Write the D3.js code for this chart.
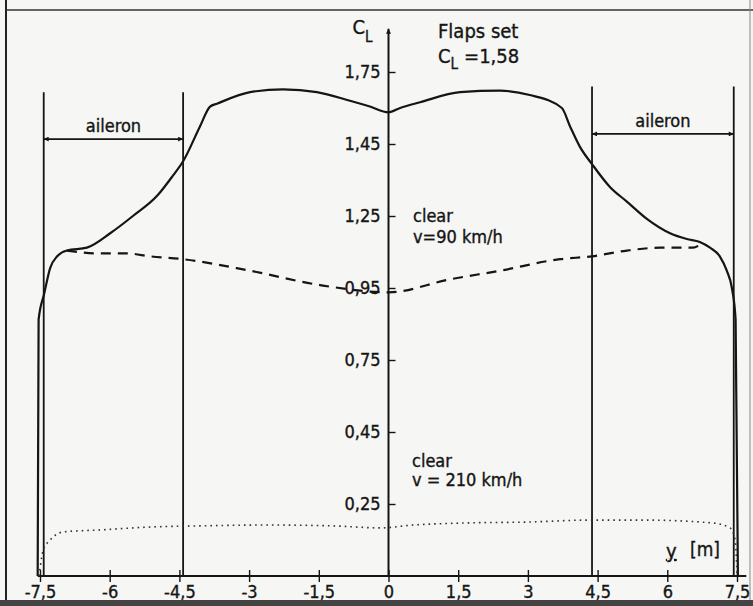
<!DOCTYPE html>
<html>
<head>
<meta charset="utf-8">
<script src="https://cdn.jsdelivr.net/npm/d3@7"></script>
<style>
  html, body { margin: 0; padding: 0; background: #f6f6f4; }
  svg { display: block; }
  text { font-family: "DejaVu Sans Condensed", "DejaVu Sans", sans-serif; fill: #151515; stroke: #151515; stroke-width: 0.35px; }
</style>
</head>
<body>
<div id="chart"></div>
<script>
// span positions [m] and lift coefficient values
const flapsY  = [-7.55, -7.53, -7.41, -7.28, -7.13, -6.92, -6.49, -5.99, -5.5, -4.98, -4.64, -4.42, -4.06, -3.84, -3.69, -2.98, -2.27, -1.54, -0.83, -0.4, 0, 0.25, 0.68, 1.54, 2.4, 3.04, 3.73, 3.91, 4.12, 4.38, 4.77, 5.13, 5.56, 6.06, 6.42, 6.7, 6.92, 7.13, 7.28, 7.39, 7.47, 7.52];
const flapsCL = [0, 0.89, 0.98, 1.07, 1.11, 1.13, 1.14, 1.19, 1.25, 1.32, 1.39, 1.44, 1.56, 1.63, 1.64, 1.68, 1.69, 1.68, 1.65, 1.63, 1.61, 1.625, 1.645, 1.68, 1.685, 1.67, 1.625, 1.56, 1.49, 1.43, 1.35, 1.3, 1.24, 1.19, 1.17, 1.16, 1.14, 1.11, 1.06, 1.0, 0.89, 0];

const slowY  = [-6.92, -6.21, -5.63, -5.13, -4.42, -2.98, -1.47, 0, 1.32, 2.4, 3.69, 4.38, 5.13, 5.84, 6.55, 6.7];
const slowCL = [1.13, 1.12, 1.12, 1.11, 1.10, 1.06, 1.01, 0.985, 1.03, 1.06, 1.10, 1.11, 1.13, 1.14, 1.14, 1.15];

const fastY  = [-7.52, -7.43, -7.28, -7.0, -6.21, -5.13, -4.06, -2.61, -1.19, -0.18, 0.53, 1.61, 3.04, 4.27, 5.56, 6.98, 7.35, 7.46, 7.5];
const fastCL = [0, 0.09, 0.125, 0.153, 0.16, 0.17, 0.174, 0.177, 0.174, 0.167, 0.177, 0.184, 0.1875, 0.194, 0.194, 0.184, 0.167, 0.125, 0.01];

const xTickValues = [-7.5, -6, -4.5, -3, -1.5, 0, 1.5, 3, 4.5, 6, 7.5];
const xTickLabels = ['-7,5', '-6', '-4,5', '-3', '-1,5', '0', '1,5', '3', '4,5', '6', '7,5'];
const yTickValues = [0.25, 0.5, 0.75, 1.0, 1.25, 1.5, 1.75];
const yTickLabels = ['0,25', '0,45', '0,75', '0,95', '1,25', '1,45', '1,75'];

// aileron extents: [from, to, top of boundary lines, arrow level]
const ailerons = [[-7.42, -4.42, 1.68, 1.517], [4.38, 7.43, 1.70, 1.535]];

const w = 753, h = 606;

const svg = d3.select('#chart').append('svg')
  .attr('width', w)
  .attr('height', h);

const x = d3.scaleLinear().domain([-7.5, 7.5]).range([40, 737]);
const y = d3.scaleLinear().domain([0, 1.75]).range([576, 72]);

// page frame of the scan
svg.append('line').attr('x1', 6).attr('x2', 6).attr('y1', 0).attr('y2', h)
   .attr('stroke', '#222').attr('stroke-width', 2);
svg.append('line').attr('x1', 6).attr('x2', w).attr('y1', 10).attr('y2', 10)
   .attr('stroke', '#333').attr('stroke-width', 1.6);
svg.append('line').attr('x1', 750).attr('x2', 750).attr('y1', 0).attr('y2', h)
   .attr('stroke', '#888').attr('stroke-width', 1);
svg.append('rect').attr('x', 0).attr('y', 600).attr('width', w).attr('height', 6)
   .attr('fill', '#444');

const defs = svg.append('defs');
defs.append('marker')
  .attr('id', 'arr')
  .attr('viewBox', '0 0 10 10')
  .attr('refX', 10).attr('refY', 5)
  .attr('markerWidth', 7).attr('markerHeight', 5)
  .attr('markerUnits', 'userSpaceOnUse')
  .attr('orient', 'auto-start-reverse')
  .append('path').attr('d', 'M0,0L10,5L0,10Z').attr('fill', '#151515');

// x axis
const xAxis = d3.axisBottom(x)
  .tickValues(xTickValues)
  .tickFormat((d, i) => xTickLabels[i])
  .tickSizeInner(6).tickSizeOuter(0).tickPadding(3);

const gx = svg.append('g')
  .attr('transform', `translate(0, ${y(0)})`)
  .call(xAxis);
gx.select('.domain').remove();
gx.append('line')
  .attr('x1', x(-7.55)).attr('x2', x(7.7))
  .attr('stroke', '#151515').attr('stroke-width', 2);
gx.selectAll('.tick line').attr('y1', -6).attr('stroke', '#151515').attr('stroke-width', 1.4);
gx.selectAll('.tick text').attr('font-size', 18).attr('fill', '#151515');

// y axis in the middle of the span
const yAxis = d3.axisLeft(y)
  .tickValues(yTickValues)
  .tickFormat((d, i) => yTickLabels[i])
  .tickSizeInner(6).tickSizeOuter(0).tickPadding(2);

const gy = svg.append('g')
  .attr('transform', `translate(${x(0)}, 0)`)
  .call(yAxis);
gy.select('.domain').remove();
gy.append('line')
  .attr('y1', y(0)).attr('y2', y(1.9))
  .attr('stroke', '#151515').attr('stroke-width', 2)
  .attr('marker-end', 'url(#arr)');
gy.selectAll('.tick line').attr('x2', 7).attr('stroke', '#151515').attr('stroke-width', 1.4);
gy.selectAll('.tick text').attr('font-size', 18).attr('fill', '#151515');

// aileron boundaries with span arrows
ailerons.forEach(a => {
  [a[0], a[1]].forEach(v => {
    svg.append('line')
      .attr('x1', x(v)).attr('x2', x(v))
      .attr('y1', y(0)).attr('y2', y(a[2]))
      .attr('stroke', '#151515').attr('stroke-width', 1.8);
  });
  svg.append('line')
    .attr('x1', x(a[0])).attr('x2', x(a[1]))
    .attr('y1', y(a[3])).attr('y2', y(a[3]))
    .attr('stroke', '#151515').attr('stroke-width', 1.6)
    .attr('marker-start', 'url(#arr)')
    .attr('marker-end', 'url(#arr)');
  svg.append('text')
    .attr('x', (x(a[0]) + x(a[1])) / 2)
    .attr('y', y(a[3]) - 7)
    .attr('text-anchor', 'middle')
    .attr('font-size', 18)
    .text('aileron');
});

const line = d3.line()
  .x(d => x(d[0]))
  .y(d => y(d[1]))
  .curve(d3.curveMonotoneX);

svg.append('path')
  .datum(d3.zip(flapsY, flapsCL))
  .attr('d', line)
  .attr('fill', 'none')
  .attr('stroke', '#151515')
  .attr('stroke-width', 2.2);

svg.append('path')
  .datum(d3.zip(slowY, slowCL))
  .attr('d', line)
  .attr('fill', 'none')
  .attr('stroke', '#151515')
  .attr('stroke-width', 2.2)
  .attr('stroke-dasharray', '10,7');

svg.append('path')
  .datum(d3.zip(fastY, fastCL))
  .attr('d', line)
  .attr('fill', 'none')
  .attr('stroke', '#333')
  .attr('stroke-width', 1.6)
  .attr('stroke-dasharray', '1.6,4');

// annotations
const cl = svg.append('text').attr('x', x(0) - 36).attr('y', 34).attr('font-size', 20);
cl.append('tspan').text('C');
cl.append('tspan').attr('dy', 8).attr('font-size', 15).text('L');

svg.append('text').attr('x', 438).attr('y', 38).attr('font-size', 20).text('Flaps set');
const cl2 = svg.append('text').attr('x', 438).attr('y', 63).attr('font-size', 20);
cl2.append('tspan').text('C');
cl2.append('tspan').attr('dy', 6).attr('font-size', 15).text('L');
cl2.append('tspan').attr('dy', -6).attr('dx', 6).text('=1,58');

svg.append('text').attr('x', 413).attr('y', 222).attr('font-size', 18).text('clear');
svg.append('text').attr('x', 413).attr('y', 243).attr('font-size', 18).text('v=90 km/h');
svg.append('text').attr('x', 412).attr('y', 467).attr('font-size', 18).text('clear');
svg.append('text').attr('x', 412).attr('y', 486).attr('font-size', 18).text('v = 210  km/h');

svg.append('text').attr('x', 666).attr('y', 558).attr('font-size', 20)
   .attr('text-decoration', 'underline').text('y');
svg.append('text').attr('x', 690).attr('y', 556).attr('font-size', 19).text('[m]');
</script>
</body>
</html>
